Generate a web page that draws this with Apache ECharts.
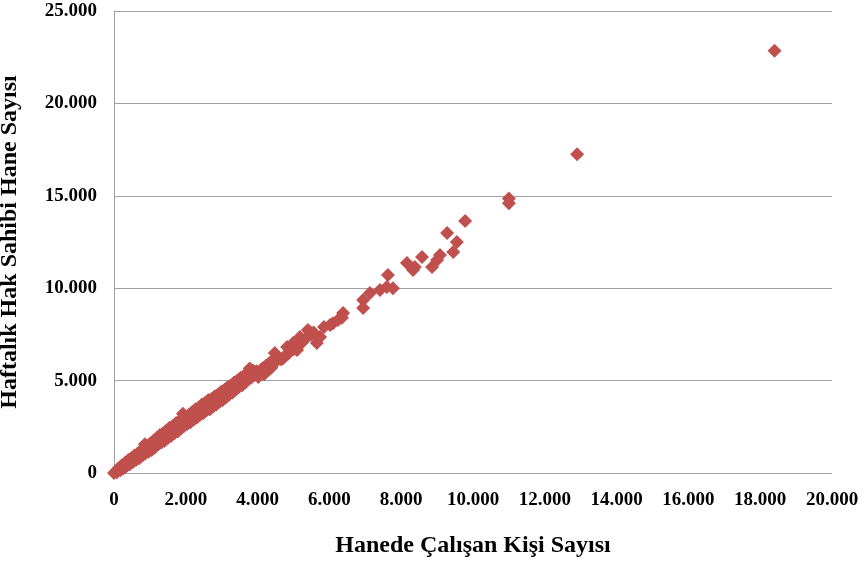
<!DOCTYPE html>
<html><head><meta charset="utf-8">
<script src="https://cdn.jsdelivr.net/npm/echarts@6/dist/echarts.min.js"></script>
<style>html,body{margin:0;padding:0;background:#fff}#c{width:864px;height:562px}</style>
</head><body><div id="c"></div>
<script>
const xTitle = "Hanede Çalışan Kişi Sayısı";
const yTitle = "Haftalık Hak Sahibi Hane Sayısı";
const xValues = [0,80,120,180,220,260,310,350,400,440,480,530,570,620,660,700,750,790,860,870,920,960,1010,1050,1100,1140,1190,1230,1280,1320,1370,1410,1460,1500,1550,1590,1640,1680,1730,1770,1820,1860,1920,1950,2000,2040,2090,2130,2180,2220,2270,2310,2360,2400,2450,2490,2540,2580,2630,2670,2720,2760,2810,2850,2900,2940,2990,3030,3080,3120,3170,3210,3260,3300,3350,3390,3440,3480,3530,3570,3620,3660,3720,3780,3820,3870,3920,3970,4020,4080,4130,4180,4230,4280,4330,4380,4430,4480,4550,4650,4700,4750,4820,4850,4900,4990,5000,5050,5100,5180,5200,5250,5300,5400,5460,5500,5560,5650,5740,5850,6020,6100,6240,6380,6350,6940,6940,7130,7410,7600,7630,7770,8160,8330,8380,8580,8860,9000,9080,9280,9450,9550,9780,11000,11000,12900,18400];
const yValues = [0,40,250,150,420,240,560,380,700,480,800,600,950,720,1050,800,1200,950,1550,1050,1450,1150,1600,1250,1750,1400,1900,1550,2050,1650,2150,1750,2300,1900,2450,2000,2550,2150,2700,2250,2800,2400,3200,2550,3050,2650,3150,2750,3300,2900,3450,3000,3550,3150,3700,3250,3800,3400,3950,3450,4000,3600,4150,3700,4250,3850,4400,3950,4500,4100,4650,4250,4750,4350,4900,4500,5000,4650,5150,4750,5250,4900,5350,5650,5150,5550,5300,5500,5200,5450,5650,5350,5800,5550,5950,5700,6100,6500,6100,6150,6200,6300,6820,6450,6600,7030,6700,6750,6650,7360,7000,7100,7200,7740,7630,7500,7600,7030,7360,7900,8010,8100,8280,8660,8400,9360,8930,9740,9900,10060,10710,10000,11360,10980,11150,11690,11150,11530,11800,12990,11960,12500,13640,14850,14600,17250,22850];
const xTicks = [0,2000,4000,6000,8000,10000,12000,14000,16000,18000,20000];
const yTicks = [0,5000,10000,15000,20000,25000];

const fmt = v => v === 0 ? '0' : (v/1000).toFixed(3);
const data = xValues.map((x,i)=>[x,yValues[i]]);
const chart = echarts.init(document.getElementById('c'), null, {renderer:'canvas'});
const lblFont = {fontFamily:'"Liberation Serif","Times New Roman",serif', fontWeight:'bold', fontSize:19, color:'#000'};
chart.setOption({
  animation:false,
  backgroundColor:'#fff',
  grid:{left:114,right:32,top:11,bottom:89,containLabel:false,outerBoundsMode:'none'},
  xAxis:{type:'value',min:xTicks[0],max:xTicks[xTicks.length-1],interval:2000,
    name:xTitle,nameLocation:'middle',nameGap:61,
    nameTextStyle:Object.assign({},lblFont,{fontSize:24}),
    axisLine:{show:false},axisTick:{show:false},splitLine:{show:false},
    axisLabel:Object.assign({},lblFont,{margin:18,formatter:fmt})},
  yAxis:{type:'value',min:yTicks[0],max:yTicks[yTicks.length-1],interval:5000,
    name:yTitle,nameLocation:'middle',nameGap:92,
    nameTextStyle:Object.assign({},lblFont,{fontSize:24}),
    axisLine:{show:true,lineStyle:{color:'#a0a0a0',width:1}},axisTick:{show:false},
    splitLine:{show:true,lineStyle:{color:'#a0a0a0',width:1}},
    axisLabel:Object.assign({},lblFont,{margin:17,formatter:fmt})},
  series:[{type:'scatter',data:data,symbol:'diamond',symbolSize:14,
    itemStyle:{color:'#C0504D',opacity:1}}]
});
</script></body></html>
